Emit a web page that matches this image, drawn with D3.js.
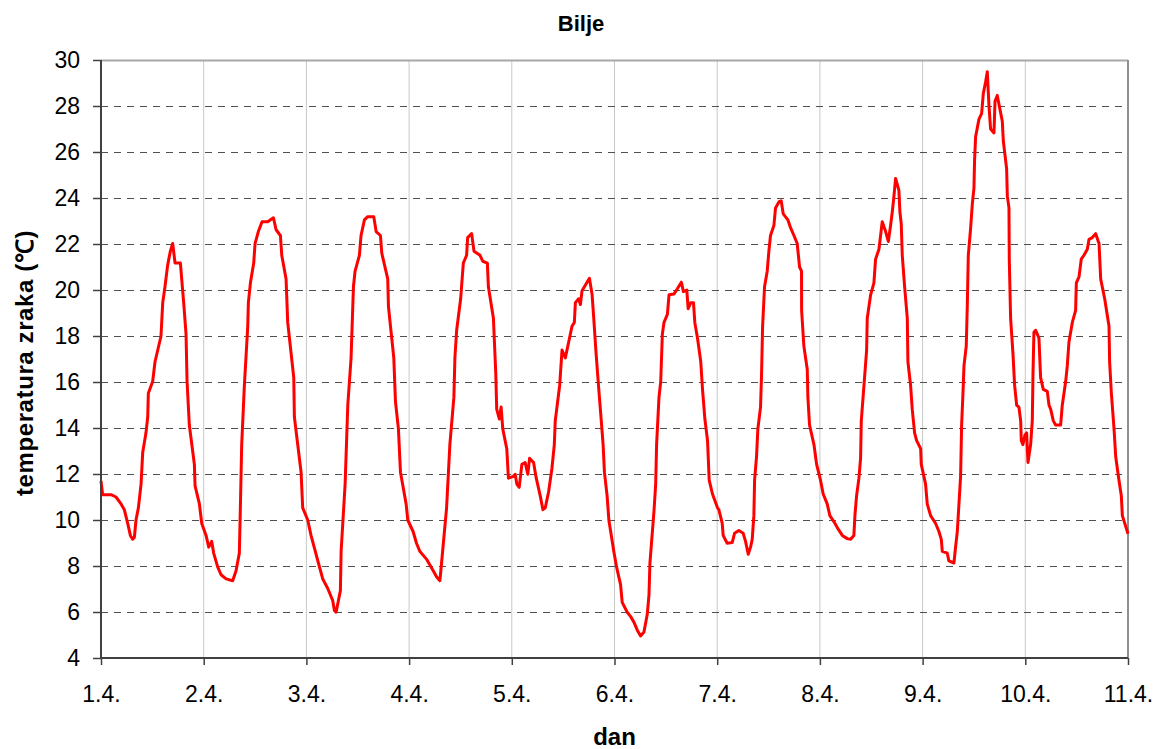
<!DOCTYPE html>
<html>
<head>
<meta charset="utf-8">
<script src="https://cdn.jsdelivr.net/npm/d3@7"></script>
<style>
  body { margin: 0; background: #fff; }
  text { font-family: "Liberation Sans", Arial, sans-serif; fill: #000; }
</style>
</head>
<body>
<script>
// chart size and plot area
var w = 1162;
var h = 749;
var margin = {top: 60, right: 34, bottom: 91, left: 101};

// x tick labels (one per day) and y ticks
var xTickLabels = ["1.4.", "2.4.", "3.4.", "4.4.", "5.4.", "6.4.", "7.4.", "8.4.", "9.4.", "10.4.", "11.4."];
var yTicks = [4, 6, 8, 10, 12, 14, 16, 18, 20, 22, 24, 26, 28, 30];

// time in days since 1.4. 00h
var time = [
  0, 0.016, 0.097, 0.146, 0.195, 0.227, 0.260, 0.286, 0.308, 0.325, 0.341, 0.364, 0.390, 0.406, 0.438, 0.455,
  0.461, 0.503, 0.526, 0.584, 0.601, 0.623, 0.649, 0.675, 0.698, 0.721, 0.773, 0.805, 0.828, 0.838, 0.860,
  0.909, 0.916, 0.958, 0.981, 1.023, 1.049, 1.078, 1.097, 1.136, 1.169, 1.218, 1.282, 1.315, 1.347, 1.357,
  1.370, 1.396, 1.429, 1.435, 1.455, 1.487, 1.500, 1.532, 1.568, 1.623, 1.679, 1.705, 1.747, 1.760, 1.802,
  1.818, 1.877, 1.883, 1.948, 1.964, 2.013, 2.045, 2.117, 2.159, 2.208, 2.256, 2.273, 2.289, 2.331, 2.338,
  2.377, 2.403, 2.435, 2.458, 2.474, 2.516, 2.532, 2.565, 2.597, 2.656, 2.679, 2.721, 2.734, 2.792, 2.799,
  2.851, 2.867, 2.896, 2.916, 2.971, 2.987, 3.039, 3.072, 3.104, 3.169, 3.235, 3.267, 3.300, 3.316, 3.365,
  3.397, 3.436, 3.446, 3.463, 3.502, 3.528, 3.560, 3.570, 3.609, 3.632, 3.691, 3.717, 3.762, 3.772, 3.821,
  3.844, 3.853, 3.879, 3.896, 3.912, 3.951, 3.967, 4.016, 4.033, 4.049, 4.072, 4.098, 4.130, 4.156, 4.173,
  4.212, 4.238, 4.277, 4.303, 4.326, 4.358, 4.391, 4.414, 4.423, 4.466, 4.489, 4.521, 4.554, 4.586, 4.609,
  4.619, 4.651, 4.668, 4.684, 4.717, 4.756, 4.782, 4.798, 4.821, 4.847, 4.870, 4.889, 4.902, 4.928, 4.945,
  4.993, 5.020, 5.059, 5.075, 5.124, 5.156, 5.189, 5.222, 5.254, 5.287, 5.319, 5.336, 5.345, 5.384, 5.401,
  5.410, 5.433, 5.450, 5.466, 5.482, 5.515, 5.531, 5.580, 5.612, 5.651, 5.671, 5.704, 5.717, 5.743, 5.769,
  5.782, 5.808, 5.840, 5.857, 5.880, 5.906, 5.922, 5.954, 6.003, 6.016, 6.049, 6.058, 6.097, 6.146, 6.169,
  6.211, 6.253, 6.276, 6.302, 6.325, 6.341, 6.357, 6.364, 6.383, 6.396, 6.422, 6.432, 6.442, 6.461, 6.487,
  6.503, 6.519, 6.552, 6.568, 6.601, 6.623, 6.643, 6.688, 6.714, 6.747, 6.779, 6.802, 6.821, 6.822, 6.844,
  6.877, 6.883, 6.899, 6.942, 6.968, 7.006, 7.032, 7.071, 7.097, 7.136, 7.169, 7.218, 7.266, 7.299, 7.331,
  7.341, 7.357, 7.380, 7.396, 7.403, 7.429, 7.455, 7.461, 7.494, 7.526, 7.542, 7.575, 7.607, 7.640, 7.666,
  7.688, 7.705, 7.721, 7.737, 7.769, 7.779, 7.792, 7.802, 7.825, 7.851, 7.857, 7.883, 7.899, 7.922, 7.942,
  7.981, 7.987, 8.029, 8.045, 8.078, 8.127, 8.159, 8.182, 8.192, 8.240, 8.256, 8.305, 8.321, 8.338, 8.354,
  8.370, 8.380, 8.393, 8.403, 8.425, 8.435, 8.445, 8.468, 8.484, 8.500, 8.506, 8.516, 8.549, 8.575, 8.591,
  8.614, 8.630, 8.646, 8.662, 8.695, 8.705, 8.727, 8.753, 8.776, 8.786, 8.818, 8.825, 8.841, 8.844, 8.857,
  8.880, 8.896, 8.916, 8.938, 8.955, 8.961, 8.977, 8.997, 9.013, 9.026, 9.052, 9.068, 9.075, 9.084, 9.101,
  9.133, 9.149, 9.175, 9.214, 9.231, 9.247, 9.273, 9.295, 9.344, 9.360, 9.393, 9.409, 9.425, 9.458, 9.490,
  9.497, 9.523, 9.545, 9.571, 9.604, 9.620, 9.653, 9.685, 9.718, 9.734, 9.773, 9.815, 9.821, 9.838, 9.864,
  9.880, 9.912, 9.935, 9.945, 10.0
];

// air temperature (°C) at each time above
var temp = [
  11.7, 11.1, 11.1, 11.0, 10.7, 10.45, 9.85, 9.33, 9.16, 9.25, 10.0, 10.53, 11.56, 12.93, 13.79, 14.48,
  15.51, 16.02, 16.88, 17.99, 19.45, 20.14, 21.08, 21.68, 22.02, 21.17, 21.17, 19.45, 18.08, 16.02, 14.13,
  12.42, 11.48, 10.7, 9.85, 9.33, 8.82, 9.07, 8.56, 7.96, 7.62, 7.44, 7.36, 7.79, 8.56, 10.53,
  13.28, 15.85, 18.42, 19.45, 20.31, 21.17, 22.02, 22.54, 22.97, 22.97, 23.14, 22.62, 22.37, 21.51, 20.48,
  18.59, 16.19, 14.48, 12.08, 10.53, 10.0, 9.33, 8.13, 7.44, 7.02, 6.5, 6.07, 5.99, 6.93, 8.64,
  11.56, 14.99, 17.05, 20.14, 20.82, 21.51, 22.37, 23.05, 23.19, 23.19, 22.54, 22.37, 21.6, 20.48, 19.28,
  17.05, 15.16, 13.96, 12.08, 10.7, 10.0, 9.5, 8.99, 8.64, 8.3, 7.79, 7.53, 7.36, 8.13, 10.53,
  13.28, 15.33, 17.05, 18.25, 19.62, 21.17, 21.51, 22.28, 22.45, 21.68, 21.51, 21.25, 21.17, 20.14, 18.77,
  16.36, 14.82, 14.39, 14.91, 13.96, 13.1, 11.82, 11.9, 11.99, 11.56, 11.42, 12.42, 12.5, 11.99, 12.68,
  12.5, 11.82, 11.05, 10.45, 10.53, 11.22, 12.25, 13.28, 14.31, 15.85, 17.39, 17.05, 17.74, 18.42, 18.59,
  19.45, 19.62, 19.37, 19.97, 20.22, 20.51, 19.79, 18.77, 17.22, 15.68, 14.39, 13.28, 12.08, 11.05, 10.0,
  8.64, 7.96, 7.19, 6.42, 5.99, 5.81, 5.56, 5.21, 4.96, 5.13, 5.9, 6.76, 8.13, 10.36, 11.56,
  13.28, 15.33, 16.02, 18.08, 18.59, 18.94, 19.79, 19.83, 20.05, 20.34, 19.93, 20.0, 19.19, 19.45, 19.45,
  18.59, 17.91, 16.88, 15.68, 14.39, 13.45, 11.73, 11.13, 10.53, 10.45, 9.85, 9.33, 8.99, 9.02, 9.42,
  9.54, 9.42, 9.07, 8.51, 8.82, 9.16, 10.19, 11.73, 12.76, 13.96, 14.91, 16.36, 18.42, 20.14, 20.82,
  21.68, 22.37, 22.8, 23.57, 23.83, 23.88, 23.31, 23.05, 22.71, 22.37, 22.02, 21.0, 20.82, 19.11, 17.56,
  16.54, 15.33, 14.13, 13.28, 12.42, 11.73, 11.13, 10.7, 10.19, 9.93, 9.67, 9.33, 9.19, 9.16, 9.33,
  10.19, 11.05, 11.82, 12.68, 14.31, 15.85, 17.39, 18.77, 19.79, 20.31, 21.34, 21.77, 22.97, 22.54, 22.11,
  22.8, 23.4, 24.08, 24.85, 24.34, 23.4, 22.88, 21.51, 20.14, 18.77, 16.88, 15.85, 14.82, 13.79, 13.45,
  13.1, 12.42, 11.56, 10.7, 10.19, 9.85, 9.5, 9.16, 8.64, 8.56, 8.22, 8.13, 8.82, 9.5, 10.7,
  11.9, 14.13, 15.51, 16.71, 17.56, 19.28, 21.51, 22.71, 23.74, 24.43, 25.63, 26.66, 27.43, 27.68, 28.54,
  29.06, 29.49, 28.03, 27.0, 26.83, 28.2, 28.46, 27.86, 27.34, 26.48, 25.28, 24.08, 23.57, 21.34, 18.77,
  17.22, 15.85, 14.99, 14.91, 14.31, 13.45, 13.28, 13.7, 13.79, 12.5, 13.28, 14.31, 16.36, 18.16, 18.25,
  17.91, 16.19, 15.68, 15.59, 14.99, 14.82, 14.31, 14.13, 14.13, 14.99, 16.02, 16.71, 17.74, 18.59, 19.11,
  20.31, 20.57, 21.34, 21.51, 21.77, 22.2, 22.28, 22.45, 22.02, 20.48, 19.62, 18.42, 16.88, 15.51, 13.96,
  12.76, 11.73, 11.05, 10.19, 9.4
];

var data = time.map(function(t, i){ return {t: t, v: temp[i]}; });

var iw = w - margin.left - margin.right;
var ih = h - margin.top - margin.bottom;

var x = d3.scaleLinear().domain([0, 10]).range([0, iw]);
var y = d3.scaleLinear().domain([4, 30]).range([ih, 0]);

var svg = d3.select("body")
    .append("svg")
    .attr("width", w)
    .attr("height", h);

var g = svg.append("g")
    .attr("transform", "translate(" + margin.left + "," + margin.top + ")");

// vertical grid (one line per day)
g.selectAll(".vgrid")
    .data(d3.range(1, 10))
    .enter()
    .append("line")
    .attr("x1", function(d){ return x(d); })
    .attr("x2", function(d){ return x(d); })
    .attr("y1", 0)
    .attr("y2", ih)
    .attr("stroke", "#c8c8c8")
    .attr("stroke-width", 1);

// horizontal dashed grid
g.selectAll(".hgrid")
    .data(yTicks.filter(function(d){ return d > 4 && d < 30; }))
    .enter()
    .append("line")
    .attr("x1", 0)
    .attr("x2", iw)
    .attr("y1", function(d){ return Math.round(y(d)) + 0.5; })
    .attr("y2", function(d){ return Math.round(y(d)) + 0.5; })
    .attr("stroke", "#505050")
    .attr("stroke-width", 1)
    .attr("stroke-dasharray", "7,6");

// top and right border
g.append("line")
    .attr("x1", 0).attr("x2", iw)
    .attr("y1", 0.5).attr("y2", 0.5)
    .attr("stroke", "#a8a8a8").attr("stroke-width", 2);
g.append("line")
    .attr("x1", iw).attr("x2", iw)
    .attr("y1", 0).attr("y2", ih)
    .attr("stroke", "#909090").attr("stroke-width", 2);

// the temperature line
var line = d3.line()
    .x(function(d){ return x(d.t); })
    .y(function(d){ return y(d.v); });

g.append("path")
    .datum(data)
    .attr("fill", "none")
    .attr("stroke", "#ff0000")
    .attr("stroke-width", 3)
    .attr("stroke-linejoin", "round")
    .attr("d", line);

// axes
var xAxis = d3.axisBottom(x)
    .tickValues(d3.range(0, 11))
    .tickFormat(function(d){ return xTickLabels[d]; })
    .tickSize(7)
    .tickPadding(21);

var yAxis = d3.axisLeft(y)
    .tickValues(yTicks)
    .tickSize(8)
    .tickPadding(13);

var gx = g.append("g")
    .attr("transform", "translate(0," + ih + ")")
    .call(xAxis);

var gy = g.append("g")
    .call(yAxis);

[gx, gy].forEach(function(a){
    a.select(".domain").attr("stroke", "#404040").attr("stroke-width", 2);
    a.selectAll(".tick line").attr("stroke", "#404040").attr("stroke-width", 1.5);
    a.selectAll(".tick text")
        .style("font-family", "'Liberation Sans', Arial, sans-serif")
        .style("font-size", "23px")
        .attr("fill", "#000");
});
gy.select(".domain").attr("d", "M0," + ih + "V0");
gx.select(".domain").attr("d", "M0,0H" + iw);

// title and axis labels
svg.append("text")
    .attr("x", w / 2)
    .attr("y", 31)
    .attr("text-anchor", "middle")
    .style("font-size", "22px")
    .style("font-weight", "bold")
    .text("Bilje");

svg.append("text")
    .attr("x", margin.left + iw / 2)
    .attr("y", 745)
    .attr("text-anchor", "middle")
    .style("font-size", "24px")
    .style("font-weight", "bold")
    .text("dan");

svg.append("text")
    .attr("transform", "translate(33,363) rotate(-90)")
    .attr("text-anchor", "middle")
    .style("font-size", "24px")
    .style("font-weight", "bold")
    .style("letter-spacing", "0.6px")
    .text("temperatura zraka (℃)");
</script>
</body>
</html>
